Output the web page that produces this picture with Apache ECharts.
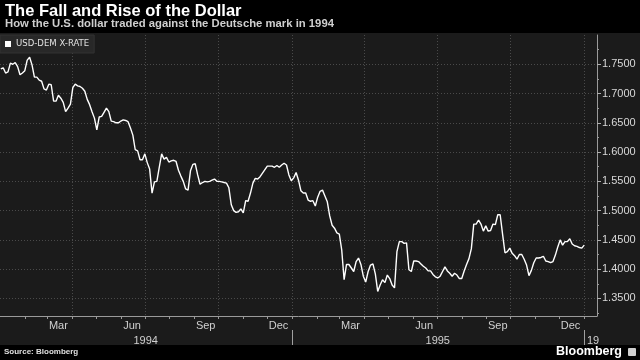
<!DOCTYPE html>
<html><head><meta charset="utf-8">
<script src="https://cdn.jsdelivr.net/npm/echarts@6/dist/echarts.min.js"></script>
<style>html,body{margin:0;padding:0;background:#000;}#c{width:640px;height:360px;}</style>
</head><body><div id="c"></div>
<script>
const TITLE = 'The Fall and Rise of the Dollar';
const SUBTITLE = 'How the U.S. dollar traded against the Deutsche mark in 1994';
const SERIES_NAME = 'USD-DEM X-RATE';
const SOURCE = 'Source: Bloomberg';
const BRAND = 'Bloomberg';
// observations every 3 calendar days, first one on START_DATE
const START_DATE = '1994-01-02';
const STEP_DAYS = 3;
const RATE = [
1.742,1.744,1.735,1.737,1.752,1.750,1.753,1.746,1.732,1.735,
1.739,1.757,1.762,1.749,1.728,1.728,1.723,1.721,1.708,1.706,
1.716,1.715,1.687,1.687,1.697,1.692,1.685,1.669,1.675,1.682,
1.710,1.716,1.713,1.712,1.709,1.704,1.690,1.681,1.669,1.658,
1.638,1.660,1.661,1.668,1.675,1.669,1.653,1.652,1.650,1.650,
1.653,1.655,1.654,1.652,1.641,1.629,1.604,1.602,1.587,1.587,
1.597,1.582,1.571,1.530,1.549,1.550,1.574,1.597,1.588,1.591,
1.583,1.585,1.586,1.584,1.569,1.559,1.550,1.537,1.535,1.568,
1.579,1.580,1.561,1.545,1.548,1.550,1.549,1.550,1.552,1.554,
1.550,1.550,1.549,1.548,1.547,1.539,1.510,1.500,1.497,1.498,
1.503,1.496,1.517,1.516,1.530,1.547,1.555,1.554,1.558,1.564,
1.570,1.576,1.576,1.576,1.574,1.577,1.574,1.578,1.581,1.578,
1.561,1.551,1.556,1.565,1.552,1.534,1.530,1.530,1.518,1.516,
1.517,1.508,1.523,1.533,1.535,1.525,1.515,1.491,1.475,1.470,
1.462,1.460,1.433,1.382,1.408,1.408,1.402,1.396,1.413,1.419,
1.408,1.388,1.378,1.396,1.407,1.409,1.392,1.362,1.373,1.382,
1.377,1.390,1.384,1.373,1.368,1.430,1.447,1.447,1.444,1.445,
1.399,1.396,1.414,1.414,1.413,1.409,1.405,1.402,1.397,1.397,
1.391,1.387,1.385,1.388,1.396,1.404,1.397,1.393,1.388,1.393,
1.390,1.384,1.384,1.397,1.408,1.418,1.435,1.477,1.477,1.484,
1.477,1.465,1.474,1.465,1.466,1.477,1.476,1.493,1.493,1.460,
1.428,1.430,1.436,1.427,1.423,1.417,1.425,1.425,1.417,1.407,
1.389,1.398,1.411,1.419,1.419,1.420,1.422,1.414,1.413,1.411,
1.413,1.424,1.438,1.450,1.441,1.447,1.447,1.452,1.443,1.440,
1.439,1.437,1.436,1.441
];
const X_MIN = '1994-01-01';
const X_MAX = '1996-01-17';
const Y_MIN = 1.32, Y_MAX = 1.80;
const Y_TICKS = [1.35,1.40,1.45,1.50,1.55,1.60,1.65,1.70,1.75];
const Y_MINOR_TICKS = [1.325,1.375,1.425,1.475,1.525,1.575,1.625,1.675,1.725,1.775];
const MONTH_LABELS = ['Mar','Jun','Sep','Dec','Mar','Jun','Sep','Dec'];
const MONTH_LABEL_DATES = ['1994-03-15','1994-06-15','1994-09-15','1994-12-15','1995-03-15','1995-06-15','1995-09-15','1995-12-15'];
const YEAR_LABELS = ['1994','1995','19'];
const YEAR_LABEL_DATES = ['1994-07-02','1995-07-02','1996-01-12'];
const YEAR_STARTS = ['1995-01-01','1996-01-01'];
const QUARTER_STARTS = ['1994-04-01','1994-07-01','1994-10-01','1995-01-01','1995-04-01','1995-07-01','1995-10-01','1996-01-01'];
const MONTH_STARTS = ['1994-02-01','1994-03-01','1994-04-01','1994-05-01','1994-06-01','1994-07-01','1994-08-01','1994-09-01','1994-10-01','1994-11-01','1994-12-01','1995-01-01','1995-02-01','1995-03-01','1995-04-01','1995-05-01','1995-06-01','1995-07-01','1995-08-01','1995-09-01','1995-10-01','1995-11-01','1995-12-01','1996-01-01'];

function ts(s){const p=s.split('-').map(Number);return Date.UTC(p[0],p[1]-1,p[2]);}
const DAY = 86400000;
const t0 = ts(START_DATE);
const seriesData = RATE.map((v,i)=>[t0 + i*STEP_DAYS*DAY, v]);
const monthLabelTs = MONTH_LABEL_DATES.map(ts);
const yearLabelTs = YEAR_LABEL_DATES.map(ts);

const FONT = "'Liberation Sans', Arial, sans-serif";
const chart = echarts.init(document.getElementById('c'), null, {renderer:'canvas'});
const grid = {left:0, right:43, top:35, bottom:44, show:false};
const baseX = {type:'value', min:ts(X_MIN), max:ts(X_MAX), gridIndex:0, position:'bottom', scale:true};
chart.setOption({
  backgroundColor:'#000',
  animation:false,
  title:[
    {text:TITLE, left:5, top:3, padding:0,
      textStyle:{color:'#fff', fontSize:16.5, fontWeight:'bold', fontFamily:FONT}},
    {text:SUBTITLE, left:5, top:18, padding:0,
      textStyle:{color:'#cfcfcf', fontSize:11.3, fontWeight:'bold', fontFamily:FONT}}
  ],
  graphic:[
    {type:'rect', z:-10, silent:true, shape:{x:0,y:33,width:640,height:312}, style:{fill:'#1b1b1b'}},
    {type:'text', left:4, top:348, style:{text:SOURCE, fill:'#e0e0e0', font:"bold 8px 'Liberation Sans', Arial"}},
    {type:'text', right:18, top:345, style:{text:BRAND, fill:'#fff', font:"bold 12.5px 'Liberation Sans', Arial"}},
    {type:'rect', right:4, top:348, shape:{width:8,height:8,r:1}, style:{fill:'#cfcfcf'}}
  ],
  legend:{show:true, left:0, top:35, orient:'horizontal', icon:'rect', itemWidth:6, itemHeight:6,
    backgroundColor:'#282828', borderColor:'#333', borderWidth:1, padding:[4,5,4,5],
    textStyle:{color:'#e0e0e0', fontSize:9.5, fontFamily:"'Liberation Sans Narrow','DejaVu Sans Condensed', Arial"},
    data:[SERIES_NAME]},
  grid:grid,
  xAxis:[
    Object.assign({}, baseX, {
      axisLine:{show:true, lineStyle:{color:'#9a9a9a', width:1}},
      axisTick:{show:false, customValues:QUARTER_STARTS.map(ts)},
      splitLine:{show:true, lineStyle:{color:'#4a4a4a', type:[1,2], width:1}},
      axisLabel:{show:true, customValues:monthLabelTs, margin:4, color:'#d0d0d0', fontSize:11, fontFamily:FONT,
        formatter:(v)=>{const i=monthLabelTs.indexOf(v);return i>=0?MONTH_LABELS[i]:'';}}
    }),
    Object.assign({}, baseX, {
      axisLine:{show:false},
      axisTick:{show:true, customValues:MONTH_STARTS.map(ts), length:3, lineStyle:{color:'#9a9a9a'}},
      splitLine:{show:false}, axisLabel:{show:false}
    }),
    Object.assign({}, baseX, {
      offset:14,
      axisLine:{show:false},
      axisTick:{show:true, customValues:YEAR_STARTS.map(ts), length:15, lineStyle:{color:'#a0a0a0'}},
      splitLine:{show:false},
      axisLabel:{show:true, customValues:yearLabelTs, margin:5, color:'#d0d0d0', fontSize:11, fontFamily:FONT,
        formatter:(v)=>{const i=yearLabelTs.indexOf(v);return i>=0?YEAR_LABELS[i]:'';}}
    })
  ],
  yAxis:[
    {type:'value', position:'right', min:Y_MIN, max:Y_MAX, gridIndex:0,
      axisLine:{show:true, lineStyle:{color:'#9a9a9a'}},
      axisTick:{show:true, customValues:Y_TICKS, length:4, lineStyle:{color:'#b0b0b0'}},
      splitLine:{show:true, lineStyle:{color:'#4a4a4a', type:[1,2], width:1}},
      axisLabel:{show:true, customValues:Y_TICKS, margin:5, color:'#d8d8d8', fontSize:11, fontFamily:FONT,
        formatter:(v)=>v.toFixed(4)}},
    {type:'value', position:'right', min:Y_MIN, max:Y_MAX, gridIndex:0,
      axisLine:{show:false},
      axisTick:{show:true, customValues:Y_MINOR_TICKS, length:2, lineStyle:{color:'#9a9a9a'}},
      splitLine:{show:false}, axisLabel:{show:false}}
  ],
  series:[{
    name:SERIES_NAME, type:'line', xAxisIndex:0, yAxisIndex:0, data:seriesData,
    showSymbol:false, symbol:'none', color:'#fff',
    lineStyle:{color:'#fff', width:1.4}, itemStyle:{color:'#fff'}
  }]
});
</script></body></html>
